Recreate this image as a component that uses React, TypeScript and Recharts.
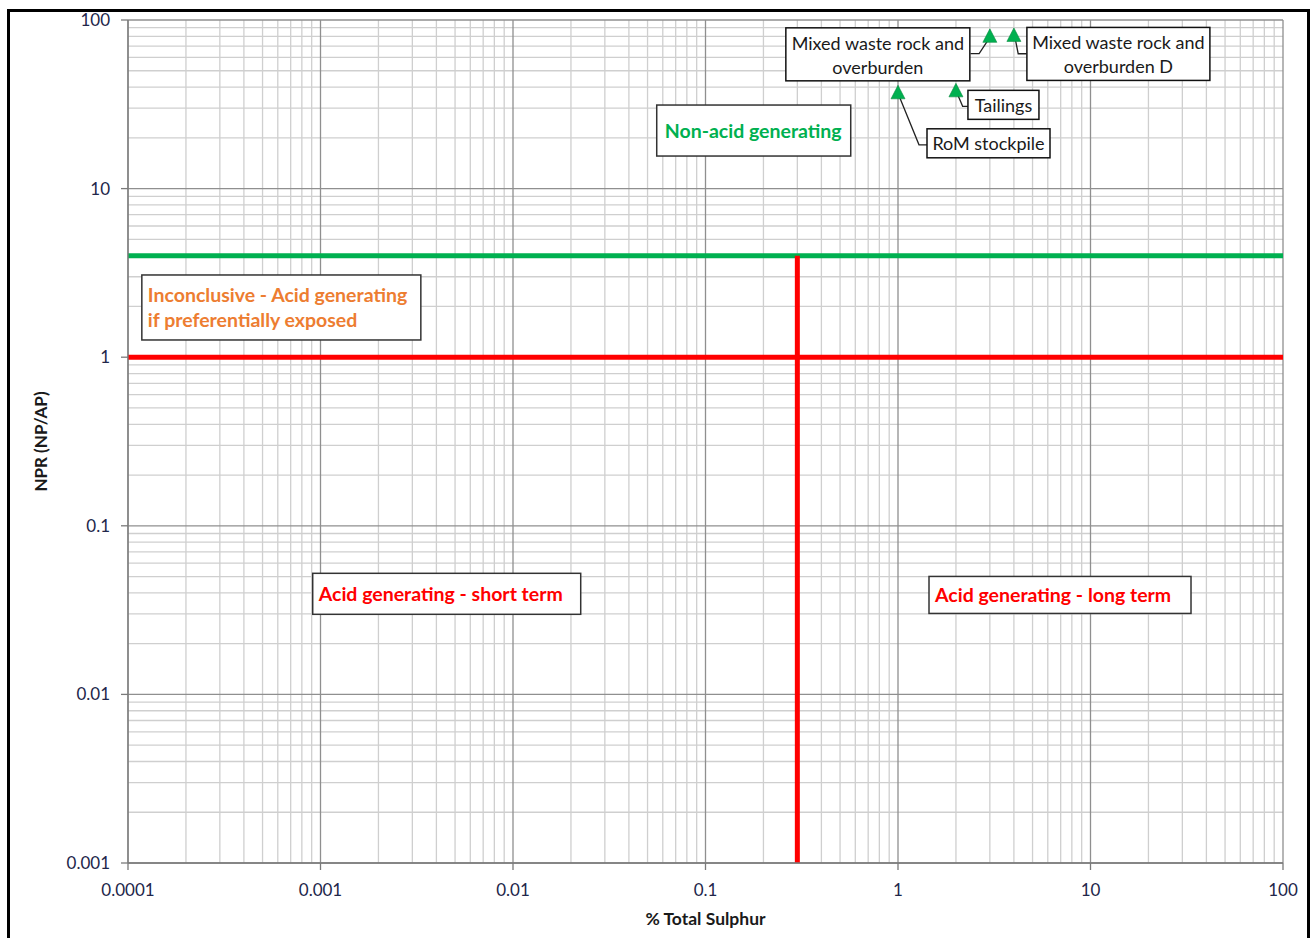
import React from 'react';
import { ScatterChart, Scatter, XAxis, YAxis, ReferenceLine, ReferenceDot } from 'recharts';

// ---- data ----
const sampleNames = [
  'RoM stockpile',
  'Tailings',
  'Mixed waste rock and overburden',
  'Mixed waste rock and overburden D',
];
const totalSulphur = [1.0, 2.0, 3.0, 4.0];
const nprValues = [37, 38, 80, 81];

const xTicks = [0.0001, 0.001, 0.01, 0.1, 1, 10, 100];
const xTickLabels = ['0.0001', '0.001', '0.01', '0.1', '1', '10', '100'];
const yTicks = [0.001, 0.01, 0.1, 1, 10, 100];
const yTickLabels = ['0.001', '0.01', '0.1', '1', '10', '100'];
const minorSteps = [2, 3, 4, 5, 6, 7, 8, 9];

const nonAcidNpr = 4;
const acidNpr = 1;
const sulphurLimit = 0.3;

const regionNames = ['nonAcid', 'inconclusive', 'shortTerm', 'longTerm'];
const regionTexts = [
  ['Non-acid generating'],
  ['Inconclusive - Acid generating', 'if preferentially exposed'],
  ['Acid generating - short term'],
  ['Acid generating - long term'],
];
const regionAnchorX = [0.0558, 0.000118, 0.000911, 1.449];
const regionAnchorY = [22.1, 1.972, 0.0395, 0.0389];

// ---- layout / styles ----
const GREEN = '#00B050';
const RED = '#FF0000';
const ORANGE = '#ED7D31';
const FONT = 'Lato, "Open Sans", sans-serif';

const regionStyle: Record<string, { w: number; h: number; color: string; pad: number }> = {
  nonAcid: { w: 194, h: 51, color: GREEN, pad: 8 },
  inconclusive: { w: 279, h: 65, color: ORANGE, pad: 6 },
  shortTerm: { w: 268, h: 41, color: RED, pad: 6 },
  longTerm: { w: 262, h: 37, color: RED, pad: 6 },
};

const calloutLayout: Record<string, { box: number[]; leader: number[][]; lines: string[] }> = {
  'RoM stockpile': { box: [29, 36, 123, 29], leader: [[1, 3], [21, 52], [29, 52]], lines: ['RoM stockpile'] },
  Tailings: { box: [12, -0.5, 71, 29], leader: [[2, 4.5], [6.7, 15.5], [12, 15.5]], lines: ['Tailings'] },
  'Mixed waste rock and overburden': {
    box: [-204, -8.5, 184, 53],
    leader: [[0, 1], [-10.7, 17.2], [-19.3, 17.2]],
    lines: ['Mixed waste rock and', 'overburden'],
  },
  'Mixed waste rock and overburden D': {
    box: [13, -8, 183, 53],
    leader: [[1, 1.7], [4.3, 18.3], [12.7, 18.3]],
    lines: ['Mixed waste rock and', 'overburden D'],
  },
};

const scatterData = sampleNames.map((name, i) => ({ name, s: totalSulphur[i], npr: nprValues[i] }));

const xMinor: number[] = [];
xTicks.slice(0, -1).forEach((d) => minorSteps.forEach((m) => xMinor.push(d * m)));
const yMinor: number[] = [];
yTicks.slice(0, -1).forEach((d) => minorSteps.forEach((m) => yMinor.push(d * m)));

const MINOR = '#cfcfcf';
const MAJOR = '#8f8f8f';

const PointShape = (props: any) => {
  const { cx, cy, payload } = props;
  if (cx == null || cy == null) return null;
  const lay = calloutLayout[payload.name];
  const [bx, by, bw, bh] = lay.box;
  const pts = lay.leader.map(([dx, dy]) => `${cx + dx},${cy + dy}`).join(' ');
  return (
    <g>
      <polyline points={pts} fill="none" stroke="#222" strokeWidth={1.3} />
      <rect x={cx + bx} y={cy + by} width={bw} height={bh} fill="#fff" stroke="#111" strokeWidth={1.5} />
      {lay.lines.map((t, k) => (
        <text
          key={k}
          x={cx + bx + bw / 2}
          y={cy + by + (lay.lines.length === 1 ? bh / 2 : 15 + k * 24)}
          textAnchor="middle"
          dominantBaseline="central"
          fontFamily={FONT}
          fontSize={18}
          fill="#1a1a1a"
        >
          {t}
        </text>
      ))}
      <polygon
        points={`${cx},${cy - 7.5} ${cx - 7},${cy + 6} ${cx + 7},${cy + 6}`}
        fill={GREEN}
        stroke="#0a8a40"
        strokeWidth={0.6}
      />
    </g>
  );
};

const makeRegionShape = (key: string, lines: string[]) => (props: any) => {
  const { cx, cy } = props;
  if (cx == null || cy == null) return null;
  const st = regionStyle[key];
  const top = cy - st.h / 2;
  return (
    <g>
      <rect x={cx} y={top} width={st.w} height={st.h} fill="#fff" stroke="#333" strokeWidth={1.5} />
      {lines.map((t, k) => (
        <text
          key={k}
          x={cx + st.pad}
          y={lines.length === 1 ? cy : top + 20 + k * 25}
          dominantBaseline="central"
          fontFamily={FONT}
          fontWeight={700}
          fontSize={19.5}
          fill={st.color}
        >
          {t}
        </text>
      ))}
    </g>
  );
};

const tickStyle = { fontFamily: FONT, fontSize: 17, fill: '#22264a' };

export default function App() {
  return (
    <div style={{ position: 'absolute', left: 0, top: 0, width: 1311, height: 938, overflow: 'hidden', background: '#fff' }}>
      <div
        style={{
          position: 'absolute',
          left: 7,
          top: 9,
          width: 1303,
          height: 960,
          border: '3px solid #000',
          boxSizing: 'border-box',
        }}
      />
      <div style={{ position: 'absolute', left: 0, top: 0 }}>
        <ScatterChart width={1311} height={938} margin={{ top: 20, right: 28, bottom: 0, left: 0 }}>
          {xMinor.map((v) => (
            <ReferenceLine key={'xm' + v} x={v} stroke={MINOR} strokeWidth={1.3} ifOverflow="visible" />
          ))}
          {yMinor.map((v) => (
            <ReferenceLine key={'ym' + v} y={v} stroke={MINOR} strokeWidth={1.3} ifOverflow="visible" />
          ))}
          {xTicks.map((v) => (
            <ReferenceLine key={'xM' + v} x={v} stroke={MAJOR} strokeWidth={1.3} ifOverflow="visible" />
          ))}
          {yTicks.map((v) => (
            <ReferenceLine key={'yM' + v} y={v} stroke={MAJOR} strokeWidth={1.3} ifOverflow="visible" />
          ))}
          <XAxis
            type="number"
            dataKey="s"
            scale="log"
            domain={[xTicks[0], xTicks[xTicks.length - 1]]}
            allowDataOverflow
            ticks={xTicks}
            interval={0}
            tickFormatter={(v: number) => xTickLabels[xTicks.indexOf(v)] ?? String(v)}
            tick={tickStyle}
            tickSize={7}
            tickMargin={14}
            stroke="#7a7a7a"
            strokeWidth={1.3}
            height={75}
            label={{
              content: (p: any) => {
                const vb = p.viewBox;
                return (
                  <text
                    x={vb.x + vb.width / 2}
                    y={vb.y + 55}
                    textAnchor="middle"
                    dominantBaseline="central"
                    fontFamily={FONT}
                    fontWeight={700}
                    fontSize={17.5}
                    fill="#1a1a1a"
                  >
                    % Total Sulphur
                  </text>
                );
              },
            }}
          />
          <YAxis
            type="number"
            dataKey="npr"
            scale="log"
            domain={[yTicks[0], yTicks[yTicks.length - 1]]}
            allowDataOverflow
            ticks={yTicks}
            interval={0}
            tickFormatter={(v: number) => yTickLabels[yTicks.indexOf(v)] ?? String(v)}
            tick={tickStyle}
            tickSize={7}
            tickMargin={11}
            stroke="#7a7a7a"
            strokeWidth={1.3}
            width={128}
            label={{
              content: (p: any) => {
                const vb = p.viewBox;
                const cx = 40;
                const cy = vb.y + vb.height / 2;
                return (
                  <text
                    x={cx}
                    y={cy}
                    transform={`rotate(-90 ${cx} ${cy})`}
                    textAnchor="middle"
                    dominantBaseline="central"
                    fontFamily={FONT}
                    fontWeight={700}
                    fontSize={17}
                    fill="#1a1a1a"
                  >
                    NPR (NP/AP)
                  </text>
                );
              },
            }}
          />
          <ReferenceLine y={nonAcidNpr} stroke={GREEN} strokeWidth={5} ifOverflow="visible" />
          <ReferenceLine y={acidNpr} stroke={RED} strokeWidth={5} ifOverflow="visible" />
          <ReferenceLine
            segment={[
              { x: sulphurLimit, y: yTicks[0] },
              { x: sulphurLimit, y: nonAcidNpr },
            ]}
            stroke={RED}
            strokeWidth={5}
            ifOverflow="visible"
          />
          {regionNames.map((key, i) => (
            <ReferenceDot
              key={key}
              x={regionAnchorX[i]}
              y={regionAnchorY[i]}
              r={1}
              ifOverflow="visible"
              shape={makeRegionShape(key, regionTexts[i])}
            />
          ))}
          <Scatter data={scatterData} isAnimationActive={false} shape={PointShape} />
        </ScatterChart>
      </div>
    </div>
  );
}
